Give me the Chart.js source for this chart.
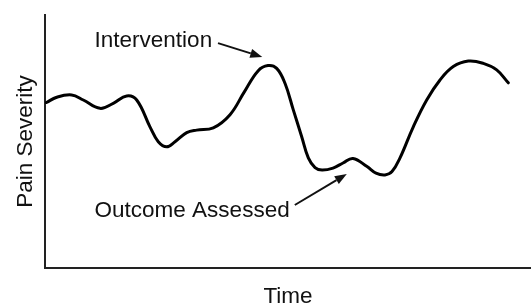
<!DOCTYPE html>
<html>
<head>
<meta charset="utf-8">
<script src="https://cdn.jsdelivr.net/npm/chart.js@4/dist/chart.umd.min.js"></script>
<style>
  html, body { margin: 0; padding: 0; background: #fff; }
  canvas { display: block; }
</style>
</head>
<body>
<canvas id="c" width="531" height="305"></canvas>
<script>
// ---- data (time 0..100, severity 0..100) ----
const timeValues = [0.31, 2.41, 5.49, 7.88, 11.32, 14.05, 16.81, 18.87, 21.60, 23.31, 25.04, 26.75, 29.16, 31.21, 34.63, 38.07, 40.95, 43.83, 45.88, 47.67, 49.38, 51.09, 52.82, 54.18, 55.56, 57.00, 59.26, 61.32, 63.37, 66.26, 68.11, 69.96, 71.40, 73.05, 75.78, 78.54, 81.28, 84.01, 87.10, 90.19, 92.94, 95.33];
const severityValues = [65.4, 67.5, 68.4, 66.4, 63.1, 65.1, 68.0, 66.4, 55.8, 49.9, 47.9, 49.9, 53.5, 54.5, 55.4, 60.6, 69.4, 77.9, 80.0, 78.9, 73.0, 62.5, 51.9, 43.5, 39.7, 38.7, 39.5, 41.5, 43.3, 40.1, 37.5, 36.8, 38.1, 43.5, 55.8, 66.4, 74.3, 79.6, 81.8, 80.9, 78.3, 73.2];

const xAxisTitle = 'Time';
const yAxisTitle = 'Pain Severity';

// annotation labels and arrows (in data units)
const annotationTexts = ['Intervention', 'Outcome Assessed'];
const annotationTextX = [10.2, 10.2];
const annotationTextY = [87.4, 20.2];
const arrowFromX = [35.6, 51.4];
const arrowFromY = [88.9, 24.9];
const arrowToX = [44.7, 62.1];
const arrowToY = [83.4, 37.2];

const points = timeValues.map((t, i) => ({ x: t, y: severityValues[i] }));
const FONT = "'Liberation Sans', Arial, Helvetica, sans-serif";

const annotationPlugin = {
  id: 'annotations',
  afterDatasetsDraw(chart) {
    const { ctx, scales: { x, y } } = chart;
    ctx.save();
    ctx.fillStyle = '#111';
    ctx.strokeStyle = '#111';
    ctx.font = '22.5px ' + FONT;
    ctx.textAlign = 'left';
    ctx.textBaseline = 'alphabetic';
    annotationTexts.forEach((txt, i) => {
      ctx.fillText(txt, x.getPixelForValue(annotationTextX[i]), y.getPixelForValue(annotationTextY[i]));
      const x0 = x.getPixelForValue(arrowFromX[i]), y0 = y.getPixelForValue(arrowFromY[i]);
      const x1 = x.getPixelForValue(arrowToX[i]), y1 = y.getPixelForValue(arrowToY[i]);
      const ang = Math.atan2(y1 - y0, x1 - x0);
      const headLen = 12, headW = 4.5;
      const bx = x1 - headLen * Math.cos(ang), by = y1 - headLen * Math.sin(ang);
      ctx.lineWidth = 2;
      ctx.beginPath();
      ctx.moveTo(x0, y0);
      ctx.lineTo(bx, by);
      ctx.stroke();
      ctx.beginPath();
      ctx.moveTo(x1, y1);
      ctx.lineTo(bx + headW * Math.sin(ang), by - headW * Math.cos(ang));
      ctx.lineTo(bx - headW * Math.sin(ang), by + headW * Math.cos(ang));
      ctx.closePath();
      ctx.fill();
    });
    ctx.restore();
  }
};

new Chart(document.getElementById('c'), {
  type: 'line',
  data: {
    datasets: [{
      data: points,
      borderColor: '#000',
      borderWidth: 3,
      pointRadius: 0,
      fill: false,
      tension: 0.4,
      borderCapStyle: 'round',
      borderJoinStyle: 'round'
    }]
  },
  options: {
    responsive: false,
    animation: false,
    devicePixelRatio: 1,
    layout: { padding: { top: 15, right: 0, bottom: 0, left: 0 } },
    plugins: { legend: { display: false }, tooltip: { enabled: false } },
    scales: {
      x: {
        type: 'linear', min: 0, max: 100,
        grid: { display: false, drawTicks: false },
        border: { display: true, color: '#222', width: 2 },
        ticks: { display: false },
        title: { display: true, text: xAxisTitle, color: '#111', font: { family: FONT, size: 22.5, lineHeight: 1 }, padding: { top: 18, bottom: -3 } },
        afterFit(scale) { scale.height = 37; }
      },
      y: {
        type: 'linear', min: 0, max: 100,
        grid: { display: false, drawTicks: false },
        border: { display: true, color: '#222', width: 2 },
        ticks: { display: false },
        title: { display: true, text: yAxisTitle, color: '#111', font: { family: FONT, size: 22.5, lineHeight: 1 }, padding: { top: 14.5, bottom: 8 } },
        afterFit(scale) { scale.width = 45; }
      }
    }
  },
  plugins: [annotationPlugin]
});
</script>
</body>
</html>
